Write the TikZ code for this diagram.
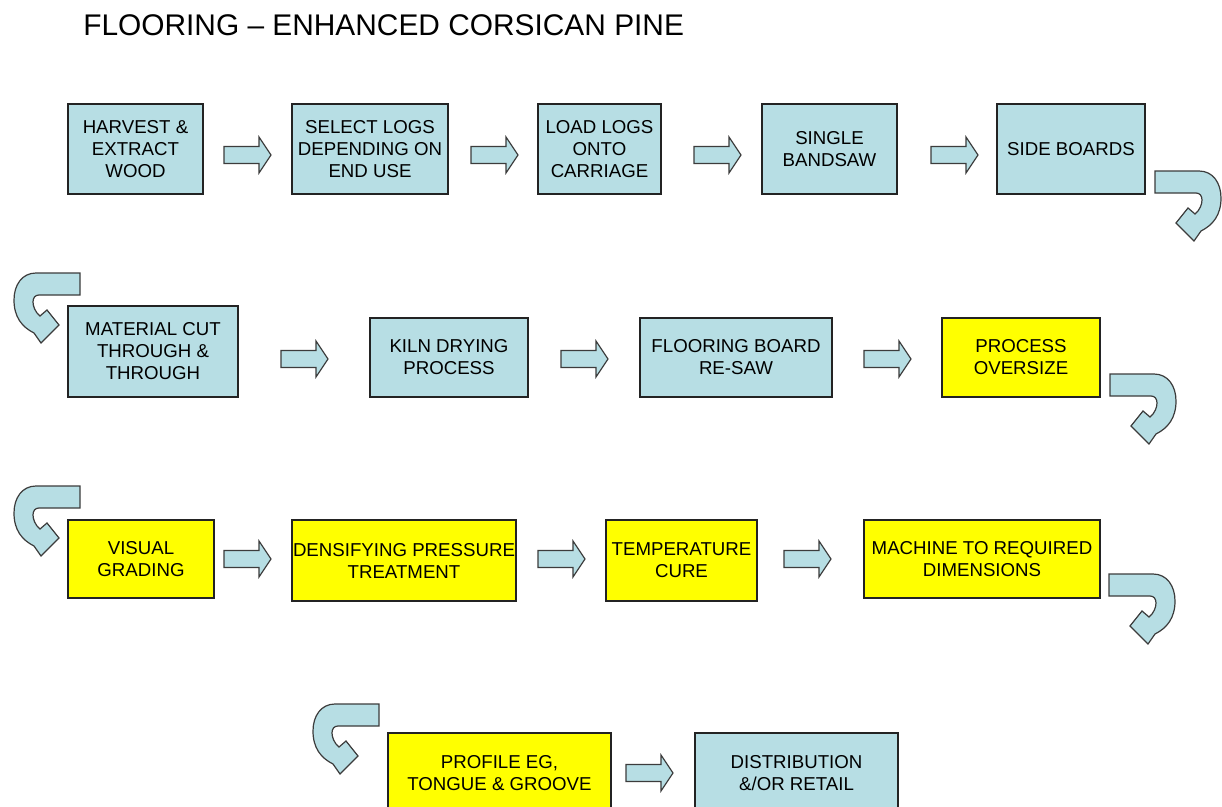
\documentclass[tikz,border=0pt]{standalone}
\usepackage{fontspec}
\setmainfont{Liberation Sans}
\definecolor{lblue}{RGB}{183,222,228}
\definecolor{byel}{RGB}{255,255,0}
\definecolor{edgec}{RGB}{35,35,35}
\definecolor{arredge}{RGB}{60,60,60}
\begin{document}
\begin{tikzpicture}[x=0.75pt,y=-0.75pt,
  box/.style={draw=edgec, line width=1pt, inner sep=0pt, align=center,
    font=\fontsize{14}{16.5}\selectfont},
  sz/.style 2 args={minimum width={#1*0.75pt}, minimum height={#2*0.75pt}},
  bbox/.style={box, fill=lblue},
  ybox/.style={box, fill=byel},
  arrstyle/.style={draw=arredge, fill=lblue, line width=0.9pt, line join=miter},
  rarrow/.pic={\path[arrstyle] (0,-8.5) -- (35,-8.5) -- (35,-18) -- (47,0) -- (35,18) -- (35,8.5) -- (0,8.5) -- cycle;},
  uturn/.pic={\path[arrstyle] (0,0) -- (44,0) .. controls (58,0) and (66,12) .. (66,27)
      .. controls (66,44) and (58,54) .. (46,60) -- (39,70) -- (21,52) -- (33,37) -- (40,43)
      .. controls (45,39) and (47,33) .. (47,29) .. controls (47,25) and (45,22) .. (41,22)
      -- (0,22) -- cycle;}
]
\useasboundingbox (0,0) rectangle (1222,807);
\fill[white] (0,0) rectangle (1222,807);

% title
\node[anchor=base west, inner sep=0pt, font=\fontsize{22.4}{26}\selectfont] (title) at (83,35) {FLOORING – ENHANCED CORSICAN PINE};

% row 1
\node[bbox, sz={135}{90}] (n1) at (135.5,149) {HARVEST \&\\EXTRACT\\WOOD};
\node[bbox, sz={156}{90}] (n2) at (370,149) {SELECT LOGS\\DEPENDING ON\\END USE};
\node[bbox, sz={123}{90}] (n3) at (599.5,149) {LOAD LOGS\\ONTO\\CARRIAGE};
\node[bbox, sz={135}{90}] (n4) at (829.5,149) {SINGLE\\BANDSAW};
\node[bbox, sz={148}{90}] (n5) at (1071,149) {SIDE BOARDS};

% row 2
\node[bbox, sz={170}{91}] (n6) at (153,351.5) {MATERIAL CUT\\THROUGH \&\\THROUGH};
\node[bbox, sz={158}{79}] (n7) at (449,357.5) {KILN DRYING\\PROCESS};
\node[bbox, sz={192}{79}] (n8) at (736,357.5) {FLOORING BOARD\\RE-SAW};
\node[ybox, sz={158}{79}] (n9) at (1021,357.5) {PROCESS\\OVERSIZE};

% row 3
\node[ybox, sz={146}{78}] (n10) at (141,559) {VISUAL\\GRADING};
\node[ybox, sz={224}{81}] (n11) at (404,560.5) {DENSIFYING PRESSURE\\TREATMENT};
\node[ybox, sz={151}{81}] (n12) at (681.5,560.5) {TEMPERATURE\\CURE};
\node[ybox, sz={236}{78}] (n13) at (982,559) {MACHINE TO REQUIRED\\DIMENSIONS};

% row 4
\node[ybox, sz={223}{80}] (n14) at (499.5,773) {PROFILE EG,\\TONGUE \& GROOVE};
\node[bbox, sz={203}{80}] (n15) at (796.5,773) {DISTRIBUTION\\\&/OR RETAIL};

% straight block arrows
\pic at (224,155) {rarrow};
\pic at (471,155) {rarrow};
\pic at (694,155) {rarrow};
\pic at (931,155) {rarrow};
\pic at (281,359) {rarrow};
\pic at (561,359) {rarrow};
\pic at (864,359) {rarrow};
\pic at (224,559) {rarrow};
\pic at (538,559) {rarrow};
\pic at (784,559) {rarrow};
\pic at (626,773) {rarrow};

% u-turn arrows
\pic at (1155,171) {uturn};
\pic[xscale=-1] at (80,273) {uturn};
\pic at (1110,374) {uturn};
\pic[xscale=-1] at (80,486) {uturn};
\pic at (1109,574) {uturn};
\pic[xscale=-1] at (379,704) {uturn};
\end{tikzpicture}
\end{document}
